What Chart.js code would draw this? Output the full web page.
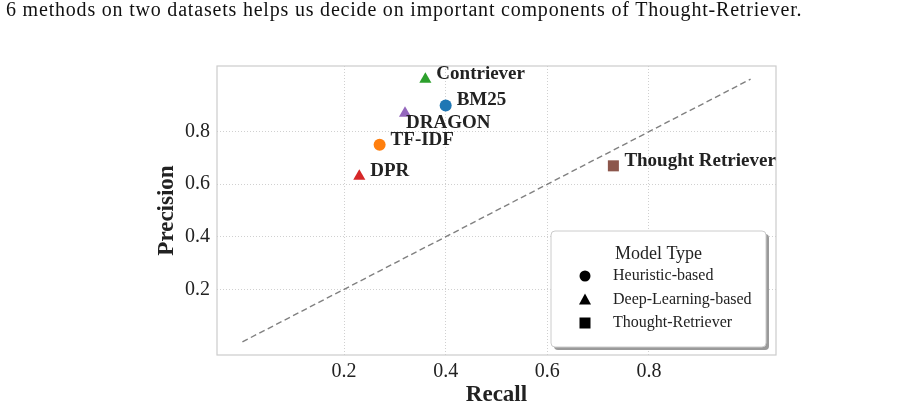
<!DOCTYPE html>
<html>
<head>
<meta charset="utf-8">
<script src="https://cdn.jsdelivr.net/npm/chart.js@4"></script>
<style>
  html, body { margin: 0; padding: 0; background: #fff; }
  #wrap { position: relative; width: 919px; height: 410px; }
  #caption {
    position: absolute; left: 6px; top: -2px;
    font-family: "Liberation Serif", "DejaVu Serif", serif;
    font-size: 20px; color: #111; white-space: nowrap;
    letter-spacing: 0.8px;
  }
  canvas { position: absolute; left: 0; top: 0; }
</style>
</head>
<body>
<div id="wrap">
  <canvas id="scatterChart" width="919" height="410"></canvas>
  <div id="caption">6 methods on two datasets helps us decide on important components of Thought-Retriever.</div>
</div>
<script>
// data
const methods = ['BM25', 'TF-IDF', 'Contriever', 'DPR', 'DRAGON', 'Thought Retriever'];
const recall = [0.40, 0.27, 0.36, 0.23, 0.32, 0.73];
const precision = [0.90, 0.75, 1.00, 0.63, 0.87, 0.67];
const methodType = ['Heuristic-based', 'Heuristic-based', 'Deep-Learning-based', 'Deep-Learning-based', 'Deep-Learning-based', 'Thought-Retriever'];
const modelTypes = ['Heuristic-based', 'Deep-Learning-based', 'Thought-Retriever'];
const xTicks = [0.2, 0.4, 0.6, 0.8];
const yTicks = [0.2, 0.4, 0.6, 0.8];
const diagonal = [0, 1];

const colors = ['#1f77b4', '#ff7f0e', '#2ca02c', '#d62728', '#9467bd', '#8c564b'];
const typeStyle = { 'Heuristic-based': 'circle', 'Deep-Learning-based': 'triangle', 'Thought-Retriever': 'rect' };
const serif = '"Liberation Serif", "DejaVu Serif", serif';
const textColor = '#222222';

var datasets = methods.map(function (name, i) {
    var style = typeStyle[methodType[i]];
    return {
        label: name,
        data: [{ x: recall[i], y: precision[i] }],
        backgroundColor: colors[i],
        borderColor: colors[i],
        borderWidth: 0,
        pointStyle: style,
        pointRadius: style === 'rect' ? 7.8 : (style === 'triangle' ? 7 : 6),
        pointHoverRadius: 7
    };
});

datasets.unshift({
    type: 'line',
    label: 'diagonal',
    data: diagonal.map(function (v) { return { x: v, y: v }; }),
    borderColor: '#808080',
    borderWidth: 1.4,
    borderDash: [6, 3.5],
    pointRadius: 0,
    fill: false
});

// label offsets (px) for the method names
const labelOffset = {
    'DRAGON': [1, 10]
};

const pointLabels = {
    id: 'pointLabels',
    afterDatasetsDraw(chart) {
        var ctx = chart.ctx;
        ctx.save();
        ctx.font = 'bold 19px ' + serif;
        ctx.fillStyle = textColor;
        ctx.textBaseline = 'middle';
        ctx.textAlign = 'left';
        chart.data.datasets.forEach(function (ds, i) {
            if (ds.type === 'line') return;
            var el = chart.getDatasetMeta(i).data[0];
            var off = labelOffset[ds.label] || [11, -5];
            ctx.fillText(ds.label, el.x + off[0], el.y + off[1]);
        });
        ctx.restore();
    }
};

const frameAndLegend = {
    id: 'frameAndLegend',
    beforeDatasetsDraw(chart) {
        var a = chart.chartArea, ctx = chart.ctx;
        ctx.save();
        ctx.strokeStyle = '#cccccc';
        ctx.lineWidth = 1.2;
        ctx.strokeRect(a.left, a.top, a.right - a.left, a.bottom - a.top);
        ctx.restore();
    },
    afterDraw(chart) {
        var a = chart.chartArea, ctx = chart.ctx;
        var w = 215, h = 116;
        var left = a.right - 10 - w, top = a.bottom - 8 - h;
        ctx.save();
        // shadow
        ctx.fillStyle = '#9a9a9a';
        ctx.beginPath();
        ctx.roundRect(left + 3, top + 3, w, h, 4);
        ctx.fill();
        ctx.fillStyle = '#ffffff';
        ctx.strokeStyle = '#cccccc';
        ctx.lineWidth = 1;
        ctx.beginPath();
        ctx.roundRect(left, top, w, h, 4);
        ctx.fill();
        ctx.stroke();

        ctx.fillStyle = textColor;
        ctx.textBaseline = 'middle';
        ctx.textAlign = 'center';
        ctx.font = '18px ' + serif;
        ctx.fillText('Model Type', left + w / 2, top + 23);

        ctx.textAlign = 'left';
        ctx.font = '16px ' + serif;
        modelTypes.forEach(function (t, i) {
            var y = top + 45 + i * 23.5;
            var x = left + 34;
            ctx.fillStyle = '#000';
            ctx.beginPath();
            if (typeStyle[t] === 'circle') {
                ctx.arc(x, y, 5.5, 0, Math.PI * 2);
            } else if (typeStyle[t] === 'triangle') {
                ctx.moveTo(x, y - 6);
                ctx.lineTo(x + 6, y + 5);
                ctx.lineTo(x - 6, y + 5);
                ctx.closePath();
            } else {
                ctx.rect(x - 5.5, y - 5.5, 11, 11);
            }
            ctx.fill();
            ctx.fillStyle = textColor;
            ctx.fillText(t, left + 62, y);
        });
        ctx.restore();
    }
};

var ctx = document.getElementById('scatterChart').getContext('2d');

var myScatter = new Chart(ctx, {
    type: 'scatter',
    data: { datasets: datasets },
    options: {
        responsive: false,
        animation: false,
        layout: { padding: { left: 149, right: 143, top: 66, bottom: 0 } },
        plugins: {
            legend: { display: false },
            tooltip: { enabled: false }
        },
        scales: {
            x: {
                type: 'linear',
                min: -0.05,
                max: 1.05,
                afterBuildTicks: function (s) { s.ticks = xTicks.map(function (v) { return { value: v }; }); },
                afterFit: function (s) { s.height = 55; },
                ticks: {
                    padding: 5,
                    color: textColor,
                    font: { family: serif, size: 20 },
                    callback: function (v) { return v.toFixed(1); }
                },
                grid: { color: '#d0d0d0', lineWidth: 1, drawTicks: false },
                border: { display: false, dash: [1, 2] },
                title: {
                    display: true,
                    text: 'Recall',
                    color: textColor,
                    font: { family: serif, size: 23, weight: 'bold' },
                    padding: { top: 0, bottom: 1 }
                }
            },
            y: {
                type: 'linear',
                min: -0.05,
                max: 1.05,
                afterBuildTicks: function (s) { s.ticks = yTicks.map(function (v) { return { value: v }; }); },
                afterFit: function (s) { s.width = 68; },
                ticks: {
                    padding: 7,
                    color: textColor,
                    font: { family: serif, size: 20 },
                    callback: function (v) { return v.toFixed(1); }
                },
                grid: { color: '#d0d0d0', lineWidth: 1, drawTicks: false },
                border: { display: false, dash: [1, 2] },
                title: {
                    display: true,
                    text: 'Precision',
                    color: textColor,
                    font: { family: serif, size: 23, weight: 'bold' },
                    padding: { top: 4, bottom: 0 }
                }
            }
        }
    },
    plugins: [frameAndLegend, pointLabels]
});
</script>
</body>
</html>
